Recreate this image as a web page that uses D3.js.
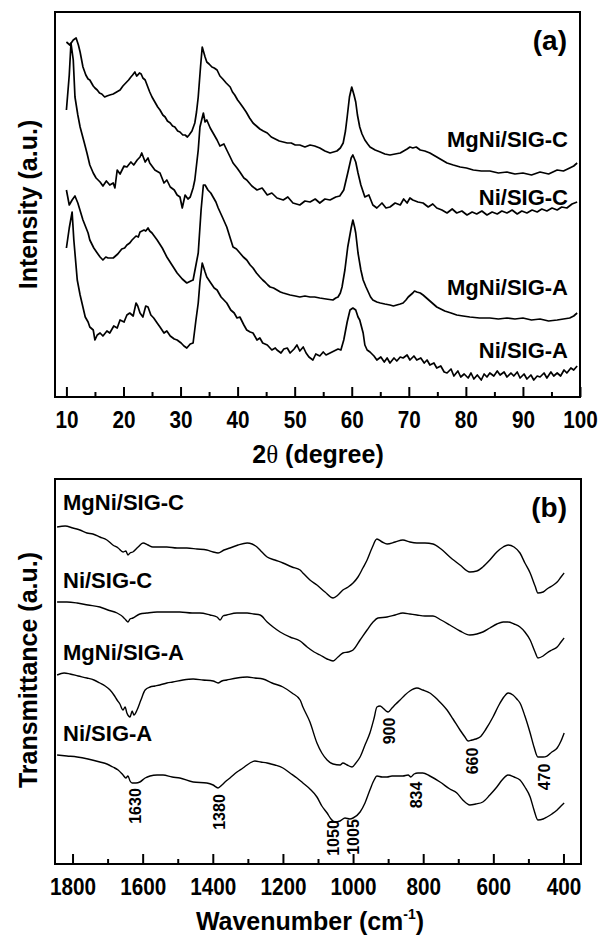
<!DOCTYPE html>
<html>
<head>
<meta charset="utf-8">
<script src="https://cdn.jsdelivr.net/npm/d3@7"></script>
<style>
body { margin: 0; background: #fff; }
text { font-family: "Liberation Sans", Arial, sans-serif; font-weight: bold; fill: #000; }
</style>
</head>
<body>
<script>
// sample names, top to bottom in both panels
const samples = ["MgNi/SIG-C", "Ni/SIG-C", "MgNi/SIG-A", "Ni/SIG-A"]

// (a) XRD: [2theta, intensity a.u.]
const xrdMgNiC = [[10.0,355],[10.6,352],[11.2,357],[11.7,359],[12.1,352],[12.4,345],[12.9,330],[13.4,322],[13.8,318],[14.1,317],[14.7,311],[15.0,309],[15.4,307],[15.8,304],[16.2,303],[16.7,300],[17.1,301],[17.6,302],[18.2,303],[18.8,305],[19.4,307],[19.9,311],[20.4,314],[20.9,317],[21.3,320],[21.6,322],[22.0,325],[22.3,321],[22.5,322],[22.8,324],[23.1,323],[23.4,319],[23.8,317],[24.2,311],[24.6,305],[25.0,300],[25.5,295],[26.0,290],[26.4,287],[26.9,282],[27.3,280],[27.7,276],[28.2,274],[28.6,271],[29.0,270],[29.5,266],[29.9,265],[30.4,262],[30.8,262],[31.2,260],[31.5,262],[32.0,266],[32.5,274],[32.8,285],[33.1,300],[33.5,330],[33.8,350],[34.1,344],[34.3,340],[34.6,335],[35.0,333],[35.5,330],[35.9,329],[36.4,327],[36.9,321],[37.4,318],[38.0,314],[38.7,310],[39.1,305],[39.5,302],[40.0,297],[40.4,294],[40.9,290],[41.5,285],[42.1,279],[42.7,274],[43.3,271],[43.9,268],[44.5,266],[45.2,264],[45.9,260],[46.6,258],[47.3,256],[48.0,255],[48.7,254],[49.4,254],[50.1,252],[50.9,252],[51.8,250],[52.7,252],[53.5,251],[54.4,249],[55.3,246],[56.2,244],[56.8,245],[57.4,246],[58.0,249],[58.5,254],[58.9,266],[59.2,280],[59.6,300],[60.0,310],[60.4,302],[60.7,295],[61.0,282],[61.4,270],[61.8,263],[62.3,257],[62.8,253],[63.2,250],[64.1,247],[65.0,245],[65.8,243],[66.7,242],[67.6,243],[68.5,244],[69.1,246],[69.7,248],[70.2,250],[70.7,249],[71.3,250],[72.0,247],[72.8,246],[73.7,244],[74.6,241],[75.5,238],[76.1,236],[76.7,234],[77.8,232],[79.0,230],[80.1,229],[81.3,227],[82.7,226],[84.2,226],[85.7,224],[87.2,225],[88.6,223],[90.0,224],[91.5,222],[93.0,225],[94.5,223],[96.0,227],[97.1,226],[98.2,229],[98.9,231],[99.5,234]]

const xrdNiC = [[10.0,287],[10.5,322],[10.8,354],[11.2,337],[11.5,300],[12.0,282],[12.4,270],[13.1,255],[13.6,244],[14.1,232],[14.7,224],[15.2,219],[15.9,215],[16.4,211],[17.0,216],[17.6,212],[18.2,214],[18.5,209],[18.9,227],[19.4,223],[20.1,231],[20.6,230],[21.3,235],[21.8,232],[22.4,237],[22.9,240],[23.2,244],[23.8,235],[24.3,239],[24.6,234],[25.5,227],[26.4,224],[27.1,214],[27.6,217],[28.2,210],[28.9,207],[29.4,202],[29.9,200],[30.3,189],[30.8,202],[31.3,198],[31.7,200],[32.2,209],[32.5,217],[33.1,247],[33.4,270],[34.0,284],[34.3,275],[34.6,277],[35.2,269],[35.7,264],[36.4,257],[36.9,251],[37.6,253],[38.1,247],[38.7,240],[39.2,234],[39.9,229],[40.4,225],[41.1,219],[41.6,217],[42.5,211],[43.4,207],[44.3,209],[45.2,202],[46.0,204],[46.9,199],[48.0,197],[48.8,200],[49.7,194],[50.9,192],[51.8,196],[52.7,195],[53.6,198],[54.4,194],[55.3,198],[56.2,197],[57.2,200],[57.9,201],[58.6,207],[59.3,224],[59.9,239],[60.2,242],[60.7,235],[61.1,224],[61.6,212],[62.3,200],[63.0,202],[63.7,192],[64.4,189],[65.3,194],[66.0,189],[66.7,190],[67.6,194],[68.5,192],[69.1,198],[69.7,194],[70.2,199],[70.7,197],[71.6,195],[72.5,194],[73.4,190],[74.2,193],[74.9,189],[75.8,187],[76.7,184],[77.6,188],[78.4,184],[79.3,186],[80.2,182],[81.1,185],[81.9,183],[82.8,186],[83.7,182],[84.6,185],[85.5,183],[86.3,186],[87.2,184],[88.1,187],[89.0,183],[89.8,186],[90.7,184],[91.6,187],[92.5,185],[93.3,188],[94.2,186],[95.1,189],[96.0,187],[96.8,190],[97.7,189],[98.6,193],[99.5,195]]

const xrdMgNiA = [[10.0,207],[10.5,192],[11.0,197],[11.5,201],[12.0,194],[12.9,177],[13.8,164],[14.1,157],[14.8,149],[15.4,144],[15.9,140],[16.4,137],[16.9,140],[17.3,139],[18.2,139],[18.6,141],[19.0,143],[19.7,148],[20.2,149],[20.6,152],[21.1,154],[21.5,157],[22.2,161],[22.6,160],[22.9,165],[23.6,167],[23.9,166],[24.3,169],[24.6,166],[25.0,164],[25.9,157],[26.8,149],[27.6,140],[28.5,132],[29.4,124],[30.3,118],[31.1,114],[31.8,116],[32.2,117],[32.7,132],[33.1,144],[33.6,187],[34.0,212],[34.3,212],[34.8,207],[35.3,204],[35.7,200],[36.2,195],[36.6,189],[37.4,179],[38.1,170],[38.7,159],[39.2,150],[39.8,148],[40.4,144],[41.0,140],[41.6,137],[42.2,132],[42.7,129],[43.3,124],[43.9,120],[44.4,117],[44.8,115],[45.3,112],[45.7,110],[46.3,109],[46.9,107],[47.5,105],[48.0,104],[48.6,103],[49.2,102],[50.1,101],[50.9,100],[51.8,101],[52.7,100],[53.5,100],[54.4,99],[55.5,98],[56.7,97],[57.2,99],[57.6,100],[58.0,104],[58.3,110],[58.8,127],[59.3,150],[59.9,169],[60.2,177],[60.5,170],[60.7,164],[61.1,144],[61.6,127],[62.0,117],[62.5,110],[62.9,105],[63.3,100],[63.7,97],[64.4,95],[65.0,94],[65.8,93],[66.7,92],[67.3,91],[67.9,92],[68.5,93],[69.0,94],[69.5,97],[69.9,100],[70.3,102],[70.7,104],[71.0,106],[71.4,105],[72.0,104],[72.5,102],[73.1,99],[73.7,96],[74.3,93],[74.9,90],[75.6,88],[76.3,86],[77.4,84],[78.4,82],[79.5,81],[80.7,80],[82.4,79],[84.2,79],[85.7,78],[87.2,79],[88.6,78],[90.0,79],[91.5,77],[93.0,78],[94.5,76],[96.0,77],[97.1,78],[98.2,79],[98.9,81],[99.5,84]]

const xrdNiA = [[10.0,149],[10.5,169],[11.0,185],[11.3,157],[11.9,117],[12.4,102],[13.3,80],[13.8,75],[14.1,70],[14.7,67],[15.0,57],[15.4,62],[15.9,64],[16.4,61],[17.1,66],[17.6,64],[18.3,71],[18.9,69],[19.4,77],[20.1,75],[20.6,82],[21.1,84],[21.7,81],[22.2,94],[22.5,91],[22.9,84],[23.4,80],[23.9,91],[24.3,90],[24.8,82],[25.3,79],[25.9,74],[26.4,70],[27.1,64],[27.6,66],[28.2,61],[28.9,58],[29.4,57],[30.1,54],[30.6,51],[31.1,49],[31.7,53],[32.2,54],[32.7,77],[33.1,94],[33.4,115],[33.8,134],[34.3,125],[34.6,120],[35.3,114],[35.9,109],[36.4,107],[37.1,100],[37.6,97],[38.1,94],[38.8,87],[39.4,84],[39.9,79],[40.4,80],[41.1,72],[41.6,67],[42.2,65],[42.7,64],[43.4,57],[43.9,59],[44.4,54],[45.2,52],[46.0,47],[46.6,49],[46.9,47],[47.6,44],[48.1,48],[48.7,49],[49.2,44],[49.9,48],[50.4,52],[50.9,46],[51.5,50],[52.0,44],[52.5,40],[53.2,37],[53.7,43],[54.4,41],[55.0,45],[55.5,42],[56.2,44],[56.9,46],[57.6,48],[58.1,47],[58.6,57],[59.2,75],[59.7,87],[60.2,89],[60.7,87],[61.1,80],[61.4,77],[62.0,64],[62.3,52],[62.7,47],[63.2,45],[63.9,41],[64.4,37],[65.1,40],[65.7,35],[66.2,39],[66.7,34],[67.4,39],[67.9,36],[68.5,40],[69.0,39],[69.7,42],[70.2,37],[70.9,41],[71.4,37],[72.1,39],[72.7,34],[73.2,37],[73.7,32],[74.4,34],[74.9,29],[75.6,31],[76.2,25],[76.7,24],[77.4,28],[77.9,21],[78.6,26],[79.1,20],[79.7,23],[80.4,19],[80.9,24],[81.4,18],[82.0,22],[82.7,17],[83.2,23],[83.7,20],[84.2,24],[84.9,21],[85.5,26],[86.0,22],[86.7,25],[87.2,20],[87.9,24],[88.4,21],[89.0,25],[89.5,19],[90.2,23],[90.7,18],[91.4,22],[91.9,17],[92.5,21],[93.0,20],[93.7,24],[94.2,19],[94.9,25],[95.4,21],[96.0,24],[96.6,21],[97.2,27],[97.7,24],[98.4,29],[98.9,27],[99.5,31]]

// (b) FTIR: [wavenumber cm-1, transmittance a.u.]
const ftirMgNiC = [[1844,337],[1821,338],[1799,336],[1779,334],[1759,331],[1742,330],[1722,327],[1702,324],[1685,319],[1670,316],[1656,312],[1648,313],[1642,309],[1636,311],[1628,312],[1613,317],[1599,321],[1585,319],[1571,317],[1551,317],[1531,317],[1502,316],[1474,316],[1445,315],[1417,314],[1399,312],[1385,311],[1368,314],[1351,316],[1328,319],[1302,321],[1288,320],[1274,317],[1260,312],[1245,307],[1223,304],[1200,301],[1174,297],[1151,294],[1143,291],[1123,284],[1103,279],[1080,272],[1057,266],[1043,269],[1029,274],[1014,277],[1000,281],[986,287],[972,296],[960,304],[946,316],[932,325],[917,322],[903,320],[880,322],[858,324],[838,322],[818,321],[795,321],[772,320],[749,315],[724,307],[695,299],[667,292],[647,293],[630,297],[610,304],[590,312],[572,317],[558,319],[541,317],[524,311],[510,301],[495,291],[481,278],[473,271],[458,272],[447,275],[433,278],[418,282],[407,287],[398,291]]

const ftirNiC = [[1844,262],[1816,262],[1787,261],[1756,259],[1722,257],[1699,254],[1673,251],[1656,247],[1648,244],[1642,242],[1636,245],[1628,246],[1608,250],[1588,251],[1559,252],[1531,252],[1494,252],[1459,251],[1437,251],[1408,249],[1388,247],[1379,244],[1371,248],[1360,249],[1331,251],[1302,251],[1283,250],[1265,249],[1245,242],[1228,237],[1208,232],[1180,227],[1151,223],[1131,217],[1111,212],[1094,209],[1074,205],[1057,203],[1043,207],[1029,211],[1014,212],[1000,214],[980,224],[960,234],[943,242],[929,246],[903,247],[880,249],[858,251],[838,250],[818,249],[795,248],[772,248],[749,244],[724,239],[695,233],[667,229],[647,230],[630,232],[610,236],[590,240],[572,242],[558,242],[541,240],[524,237],[510,232],[495,224],[481,212],[473,206],[458,208],[447,211],[433,214],[418,217],[407,222],[398,226]]

const ftirMgNiA = [[1844,189],[1824,191],[1807,190],[1784,188],[1759,186],[1739,184],[1722,181],[1707,178],[1693,174],[1682,169],[1673,164],[1665,160],[1656,154],[1650,157],[1645,151],[1636,147],[1630,153],[1625,149],[1616,154],[1605,164],[1593,174],[1579,177],[1565,178],[1551,179],[1531,181],[1514,182],[1485,184],[1456,185],[1428,184],[1399,183],[1385,181],[1374,183],[1360,184],[1331,186],[1302,187],[1280,186],[1257,185],[1231,181],[1200,177],[1174,171],[1151,164],[1143,157],[1123,142],[1103,121],[1089,111],[1074,104],[1057,100],[1037,99],[1029,101],[1017,99],[1003,97],[992,101],[980,107],[966,119],[952,131],[940,146],[932,157],[923,158],[915,156],[906,153],[900,152],[889,156],[878,160],[866,164],[852,169],[838,173],[818,176],[801,174],[781,171],[758,164],[732,154],[715,145],[695,134],[681,127],[672,123],[661,124],[650,125],[638,127],[621,135],[601,147],[584,159],[570,167],[558,171],[544,169],[533,165],[524,161],[510,148],[495,131],[484,117],[473,107],[458,107],[447,108],[433,112],[418,116],[407,123],[398,131]]

const ftirNiA = [[1844,109],[1816,108],[1787,107],[1756,105],[1722,102],[1702,100],[1685,97],[1670,94],[1656,89],[1648,86],[1642,88],[1636,83],[1630,81],[1619,81],[1608,82],[1593,86],[1579,88],[1559,89],[1542,89],[1516,87],[1494,86],[1456,82],[1417,81],[1399,79],[1385,76],[1374,79],[1362,83],[1351,86],[1331,92],[1314,96],[1294,101],[1280,103],[1263,102],[1245,101],[1223,99],[1200,96],[1180,91],[1160,86],[1143,81],[1123,75],[1103,67],[1089,58],[1074,51],[1063,45],[1052,42],[1037,43],[1023,46],[1009,45],[1000,46],[980,52],[966,61],[952,74],[940,84],[932,88],[917,87],[903,87],[889,88],[875,88],[858,88],[843,89],[835,87],[826,90],[815,91],[801,91],[781,88],[752,82],[724,75],[704,71],[687,64],[667,59],[650,60],[630,62],[610,69],[590,77],[575,84],[558,89],[541,87],[524,84],[510,77],[495,67],[484,54],[473,44],[458,45],[447,47],[433,50],[418,54],[407,58],[398,61]]

// band labels in (b): text, wavenumber, transmittance level
const bandLabels = ["1630", "1380", "1050", "1005", "900", "834", "660", "470"]
const bandWn = [1622, 1380, 1057, 1000, 895, 820, 661, 453]
const bandLevel = [58, 52, 26, 27, 133, 69, 103, 87]

// sample label levels (baseline, in data units)
const xrdLabelLevel = [250, 192, 102, 39]
const ftirLabelLevel = [354, 276, 204, 123]

const xrdTicks = [10, 20, 30, 40, 50, 60, 70, 80, 90, 100]
const xrdMinor = [15, 25, 35, 45, 55, 65, 75, 85, 95]
const ftirTicks = [1800, 1600, 1400, 1200, 1000, 800, 600, 400]
const ftirMinor = [1700, 1500, 1300, 1100, 900, 700, 500]

var width = 598, height = 940;
var svg = d3.select("body").append("svg")
    .attr("width", width)
    .attr("height", height);

var pa = { left: 55, right: 580, top: 12, bottom: 397 },
    pb = { left: 55, right: 581, top: 479, bottom: 864 };

var x1 = d3.scaleLinear().domain([8, 100]).range([pa.left, pa.right]);
var y1 = d3.scaleLinear().domain([0, 385]).range([pa.bottom, pa.top]);
var x2 = d3.scaleLinear().domain([1850, 350]).range([pb.left, pb.right]);
var y2 = d3.scaleLinear().domain([0, 385]).range([pb.bottom, pb.top]);

function drawAxis(x, p, ticks, minor) {
    var g = svg.append("g").attr("transform", "translate(0," + p.bottom + ")");
    g.call(d3.axisBottom(x).tickValues(ticks).tickFormat(d3.format("d")).tickSize(-10).tickPadding(15));
    g.select(".domain").remove();
    g.selectAll(".tick line").attr("stroke", "#000").attr("stroke-width", 2);
    g.selectAll(".tick text")
        .style("font-family", '"Liberation Sans", Arial, sans-serif')
        .style("font-weight", "bold")
        .style("font-size", "23px")
        .attr("transform", "scale(0.9,1)");
    var gm = svg.append("g").attr("transform", "translate(0," + p.bottom + ")");
    gm.call(d3.axisBottom(x).tickValues(minor).tickSize(-5).tickFormat(""));
    gm.select(".domain").remove();
    gm.selectAll(".tick line").attr("stroke", "#000").attr("stroke-width", 2);
    svg.append("rect")
        .attr("x", p.left).attr("y", p.top)
        .attr("width", p.right - p.left).attr("height", p.bottom - p.top)
        .attr("fill", "none").attr("stroke", "#000").attr("stroke-width", 2);
}

drawAxis(x1, pa, xrdTicks, xrdMinor);
drawAxis(x2, pb, ftirTicks, ftirMinor);

var line1 = d3.line().x(d => x1(d[0])).y(d => y1(d[1]));
var line2 = d3.line().x(d => x2(d[0])).y(d => y2(d[1])).curve(d3.curveMonotoneX);

[xrdMgNiC, xrdNiC, xrdMgNiA, xrdNiA].forEach(s => {
    svg.append("path").datum(s)
        .attr("fill", "none").attr("stroke", "#000").attr("stroke-width", 1.7)
        .attr("stroke-linejoin", "round")
        .attr("d", line1);
});

[ftirMgNiC, ftirNiC, ftirMgNiA, ftirNiA].forEach(s => {
    svg.append("path").datum(s)
        .attr("fill", "none").attr("stroke", "#000").attr("stroke-width", 1.4)
        .attr("d", line2);
});

// sample labels
samples.forEach((name, i) => {
    svg.append("text")
        .attr("x", 568).attr("y", y1(xrdLabelLevel[i]))
        .attr("text-anchor", "end")
        .style("font-size", "22px")
        .text(name);
    svg.append("text")
        .attr("x", 63).attr("y", y2(ftirLabelLevel[i]))
        .style("font-size", "22px")
        .text(name);
});

// band positions
bandLabels.forEach((t, i) => {
    svg.append("text")
        .attr("transform", "translate(" + x2(bandWn[i]) + "," + y2(bandLevel[i]) + ") rotate(-90)")
        .attr("text-anchor", "middle")
        .attr("dy", "0.35em")
        .style("font-size", "16px")
        .text(t);
});

// panel tags
svg.append("text").attr("x", 567).attr("y", 50).attr("text-anchor", "end").style("font-size", "28px").text("(a)");
svg.append("text").attr("x", 567).attr("y", 517).attr("text-anchor", "end").style("font-size", "28px").text("(b)");

// axis titles
var xt1 = svg.append("text").attr("x", 318).attr("y", 463).attr("text-anchor", "middle").style("font-size", "25px");
xt1.append("tspan").text("2");
xt1.append("tspan").style("font-family", '"Liberation Serif", serif').style("font-weight", "normal").text("θ");
xt1.append("tspan").text(" (degree)");

var xt2 = svg.append("text").attr("x", 310).attr("y", 930).attr("text-anchor", "middle").style("font-size", "25px");
xt2.append("tspan").text("Wavenumber (cm");
xt2.append("tspan").attr("dy", -11).style("font-size", "14px").text("-1");
xt2.append("tspan").attr("dy", 11).text(")");

svg.append("text")
    .attr("transform", "translate(37," + (pa.top + pa.bottom) / 2 + ") rotate(-90)")
    .attr("text-anchor", "middle").style("font-size", "25px")
    .text("Intensity (a.u.)");

svg.append("text")
    .attr("transform", "translate(37,670) rotate(-90)")
    .attr("text-anchor", "middle").style("font-size", "25px")
    .text("Transmittance (a.u.)");
</script>
</body>
</html>
